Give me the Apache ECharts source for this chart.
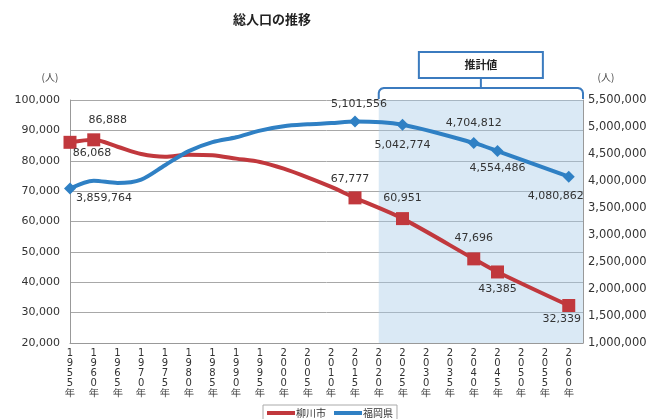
<!DOCTYPE html>
<html><head><meta charset="utf-8">
<script src="https://cdn.jsdelivr.net/npm/echarts@6/dist/echarts.min.js"></script>
<style>html,body{margin:0;padding:0;background:#fff}#c{width:653px;height:419px}</style>
</head><body><div id="c"></div><script>
// ---- data ----
const years = [1955,1960,1965,1970,1975,1980,1985,1990,1995,2000,2005,2010,2015,2020,2025,2030,2035,2040,2045,2050,2055,2060];
const cityName = '柳川市';
const prefName = '福岡県';
const cityPop = [86068,86888,84600,82200,81300,82000,81800,80700,79600,77400,74539,71375,67777,null,60951,null,null,47696,43385,null,null,32339];
const prefPop = [3859764,4006679,3964611,4027416,4292963,4553461,4719259,4811050,4933393,5015699,5049908,5071968,5101556,null,5042774,null,null,4704812,4554486,null,null,4080862];
const leftMin = 20000, leftMax = 100000, leftStep = 10000;
const rightMin = 1000000, rightMax = 5500000, rightStep = 500000;
const projectionStart = 2020;
const titleText = '総人口の推移';
const projLabel = '推計値';
const unitLabel = '(人)';

// ---- styling (label offsets, markers) ----
const cityMarkers = [1955,1960,2015,2025,2040,2045,2060];
const prefMarkers = [1955,2015,2025,2040,2045,2060];
const cityLabelOff = {1955:[22,11],1960:[14,-20],2015:[-5,-19],2025:[0,-20],2040:[0,-21],2045:[0,17],2060:[-7,14]};
const prefLabelOff = {1955:[34,10],2015:[4,-17],2025:[0,20],2040:[0,-20],2045:[0,17],2060:[-13,20]};

const fmt = v => Number(v).toLocaleString('en-US');
const RED = '#c1383d', BLUE = '#2f80c4';
const NUMFONT = 'DejaVu Sans';

function build(vals, markers, offs) {
  return years.map((y, i) => {
    const v = vals[i];
    if (v == null) return {value: [y, '-']};
    const item = {value: [y, v]};
    if (!markers.includes(y)) item.symbol = 'none';
    if (offs[y]) item.label = {show: true, position: 'inside', offset: offs[y], formatter: fmt(v)};
    return item;
  });
}

const chart = echarts.init(document.getElementById('c'), null, {renderer: 'canvas'});
const option = {
  animation: false,
  backgroundColor: '#fff',
  title: {text: titleText, left: 228, top: 8,
    textStyle: {fontSize: 13, fontWeight: 'bold', color: '#222', fontFamily: 'Noto Sans CJK JP'}},
  legend: {
    data: [cityName, prefName], left: 263, top: 405,
    icon: 'rect', itemWidth: 28, itemHeight: 4, itemGap: 8,
    borderColor: '#aaa', borderWidth: 1, padding: [3, 4],
    textStyle: {fontSize: 10, color: '#333', fontFamily: 'Noto Sans CJK JP', padding: [0, 0, 0, -4]}
  },
  grid: {left: 70, right: 70, top: 100, bottom: 76, containLabel: false},
  xAxis: {
    type: 'value', min: 1955, max: 2063, interval: 5,
    axisLine: {show: true, lineStyle: {color: '#999', width: 1}},
    axisTick: {show: false}, splitLine: {show: false},
    axisLabel: {
      margin: 5, fontSize: 10, lineHeight: 10, color: '#333', fontFamily: NUMFONT,
      showMaxLabel: false,
      formatter: v => (v % 5 === 0 && v <= 2060) ? (String(v) + '年').split('').join('\n') : ''
    }
  },
  yAxis: [
    {type: 'value', min: leftMin, max: leftMax, interval: leftStep, position: 'left',
      name: unitLabel, nameLocation: 'end', nameGap: 18,
      nameTextStyle: {fontSize: 10, color: '#444', align: 'center', padding: [0, 40, 0, 0], fontFamily: 'Noto Sans CJK JP'},
      axisLine: {show: true, lineStyle: {color: '#999'}}, axisTick: {show: false},
      splitLine: {show: true, lineStyle: {color: '#a8a8a8', width: 1}},
      axisLabel: {margin: 10, fontSize: 11, color: '#333', fontFamily: NUMFONT, formatter: fmt}},
    {type: 'value', min: rightMin, max: rightMax, interval: rightStep, position: 'right',
      name: unitLabel, nameLocation: 'end', nameGap: 18,
      nameTextStyle: {fontSize: 10, color: '#444', align: 'center', padding: [0, 0, 0, 46], fontFamily: 'Noto Sans CJK JP'},
      axisLine: {show: true, lineStyle: {color: '#999'}}, axisTick: {show: false},
      splitLine: {show: false},
      axisLabel: {margin: 5, fontSize: 11.5, color: '#333', fontFamily: NUMFONT, formatter: fmt}}
  ],
  series: [
    {name: cityName, type: 'line', yAxisIndex: 0, data: build(cityPop, cityMarkers, cityLabelOff),
      connectNulls: true, smooth: 0.3, clip: false, z: 3,
      symbol: 'rect', symbolSize: 13, showSymbol: true,
      itemStyle: {color: RED}, lineStyle: {color: RED, width: 4},
      label: {show: false, color: '#333', fontSize: 11, fontFamily: NUMFONT},
      markArea: {silent: true, itemStyle: {color: 'rgba(168,202,232,0.42)'},
        data: [[{xAxis: projectionStart}, {xAxis: 2063}]]}},
    {name: prefName, type: 'line', yAxisIndex: 1, data: build(prefPop, prefMarkers, prefLabelOff),
      connectNulls: true, smooth: 0.3, clip: false, z: 4,
      symbol: 'diamond', symbolSize: 12, showSymbol: true,
      itemStyle: {color: BLUE}, lineStyle: {color: BLUE, width: 4},
      label: {show: false, color: '#333', fontSize: 11, fontFamily: NUMFONT}}
  ]
};
chart.setOption(option);

// projection bracket and box
(function () {
  const x0 = chart.convertToPixel({xAxisIndex: 0}, projectionStart);
  const xr = chart.convertToPixel({xAxisIndex: 0}, 2063);
  const topY = chart.convertToPixel({yAxisIndex: 0}, leftMax);
  const mid = (x0 + xr) / 2;
  const by = topY - 12;
  chart.setOption({graphic: [
    {type: 'polyline', shape: {points: [[x0, topY - 1], [x0, by + 5], [x0 + 0.7, by + 2.5], [x0 + 2.5, by + 0.7], [x0 + 5, by],
      [xr - 5, by], [xr - 2.5, by + 0.7], [xr - 0.7, by + 2.5], [xr, by + 5], [xr, topY - 1]]},
      style: {fill: null, stroke: '#3b7bbf', lineWidth: 2}},
    {type: 'line', shape: {x1: mid, y1: by - 10, x2: mid, y2: by}, style: {stroke: '#3b7bbf', lineWidth: 2}},
    {type: 'rect', shape: {x: mid - 62, y: by - 36, width: 124, height: 26},
      style: {fill: '#fff', stroke: '#3b7bbf', lineWidth: 2}},
    {type: 'text', x: mid, y: by - 23, style: {text: projLabel, fontSize: 11, fontWeight: 'bold', fill: '#222',
      fontFamily: 'Noto Sans CJK JP', align: 'center', verticalAlign: 'middle'}}
  ]});
})();
</script></body></html>
